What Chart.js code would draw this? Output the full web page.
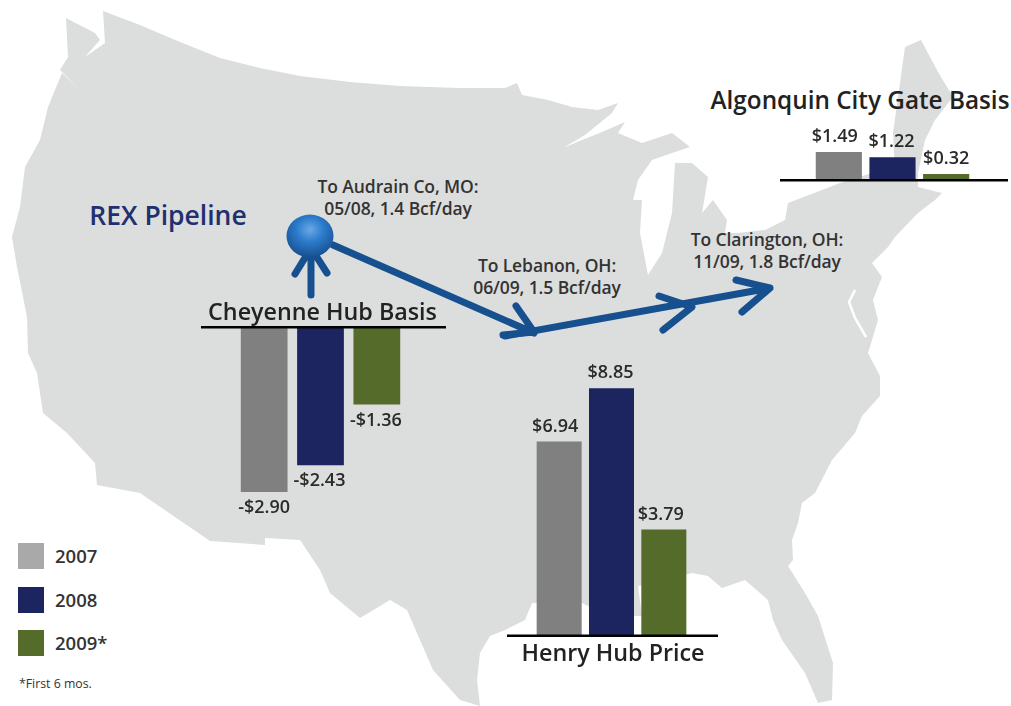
<!DOCTYPE html>
<html>
<head>
<meta charset="utf-8">
<title>REX Pipeline basis</title>
<script src="https://cdn.jsdelivr.net/npm/chart.js@4/dist/chart.umd.min.js"></script>
<style>
  html, body { margin: 0; background: #fff; }
  #stage { position: relative; width: 1011px; height: 706px; overflow: hidden;
           font-family: "Open Sans", sans-serif; font-weight: 600; color: #2a2a2a; }
  #map, canvas { position: absolute; left: 0; top: 0; }
  .t { position: absolute; white-space: nowrap; transform: translate(-50%, -50%); text-align: center; line-height: 1; }
  .head { font-size: 23.3px; color: #222; }
  .note { font-size: 17.5px; line-height: 22px; color: #333; letter-spacing: -0.1px; }
  .swatch { position: absolute; left: 18px; width: 26px; height: 26px; }
  .year { position: absolute; left: 55px; font-size: 18.5px; line-height: 1; transform: translateY(-50%); color: #333; }
</style>
</head>
<body>
<div id="stage">
  <svg id="map" width="1011" height="706">
    <defs>
      <radialGradient id="node" cx="50%" cy="35%" r="65%">
        <stop offset="0" stop-color="#6aa9e4"/>
        <stop offset="0.45" stop-color="#2b7bcb"/>
        <stop offset="1" stop-color="#17508f"/>
      </radialGradient>
    </defs>
    <polygon fill="#dcdddd" points="103,11 140,25 180,42 220,58 260,68 300,76 350,82 400,86 460,88 505,88 517,83 522,95 548,100 572,107 598,110 618,103 612,113 585,135 563,148 582,140 602,132 625,122 618,133 642,143 672,133 690,147 672,153 652,160 638,180 633,200 642,200 640,233 648,275 662,253 672,213 675,163 692,163 708,177 702,213 713,200 727,220 725,233 738,233 765,230 785,220 788,203 822,190 840,183 872,173 895,170 893,133 900,83 905,47 921,40 938,72 953,97 935,120 925,140 918,173 918,187 942,193 935,200 918,213 895,237 888,247 872,263 882,277 873,300 878,320 872,340 868,353 880,376 880,396 862,416 855,433 832,460 815,493 802,503 798,523 792,540 793,560 788,566 805,593 818,616 833,663 832,700 818,703 805,673 782,640 773,620 768,600 745,580 722,588 708,576 692,573 655,583 638,586 642,616 608,616 582,603 532,603 525,620 505,630 490,636 480,653 477,680 480,706 460,700 433,670 407,610 390,600 360,618 330,593 320,570 300,540 265,538 265,545 210,541 140,493 97,485 95,463 67,433 43,413 37,373 28,353 27,317 17,267 12,237 20,207 25,167 40,140 48,107 62,73 78,88 60,70 68,57 66,18 95,33 100,40 85,57 105,43"/>
    <path d="M855 290 L849 302 L855 318 L866 337" fill="none" stroke="#fff" stroke-width="2.5"/>
    <g fill="none" stroke="#17508f" stroke-width="7" stroke-linecap="round" stroke-linejoin="round">
      <path d="M311 295 V248 M295 274 L311 248 L327 273"/>
      <path d="M333 245 L534 333 M516 306 L534 332 L503 335"/>
      <path d="M505 336 L770 288 M659 296 L692 307 L663 330 M736 280 L770 288 L742 312"/>
    </g>
    <ellipse cx="310" cy="236" rx="23.5" ry="21.5" fill="url(#node)"/>
  </svg>

  <canvas id="cheyenne" style="left:201px;top:317px" width="245" height="210"></canvas>
  <canvas id="henry" style="left:507px;top:355px" width="211" height="290"></canvas>
  <canvas id="algonquin" style="left:780px;top:125px" width="228" height="65"></canvas>

  <div class="t" style="left:168px;top:215px;font-size:26.5px;color:#1f2f6f">REX Pipeline</div>
  <div class="t note" style="left:398px;top:197px">To Audrain Co, MO:<br>05/08, 1.4 Bcf/day</div>
  <div class="t note" style="left:547px;top:276px">To Lebanon, OH:<br>06/09, 1.5 Bcf/day</div>
  <div class="t note" style="left:767px;top:250px">To Clarington, OH:<br>11/09, 1.8 Bcf/day</div>
  <div class="t head" style="left:322.5px;top:312px">Cheyenne Hub Basis</div>
  <div class="t head" style="left:860px;top:100px;font-size:24.3px">Algonquin City Gate Basis</div>
  <div class="t head" style="left:613px;top:653px">Henry Hub Price</div>

  <div id="legend"></div>
  <div style="position:absolute;left:19px;top:678px;font-size:12.3px;line-height:1;font-weight:400;color:#333">*First 6 mos.</div>
</div>

<script>
const YEARS = ['2007', '2008', '2009*'];
const YEAR_COLORS = ['#808080', '#1d2560', '#556b2a'];
const SWATCH_COLORS = ['#a9a9a9', '#1d2560', '#556b2a'];

const CHEYENNE_BASIS = [-2.90, -2.43, -1.36];
const HENRY_PRICE = [6.94, 8.85, 3.79];
const ALGONQUIN_BASIS = [1.49, 1.22, 0.32];

// value above a positive bar, below a negative one, baseline across the whole canvas
const barExtras = {
  id: 'barExtras',
  afterDatasetsDraw(chart, args, opts) {
    const { ctx, width } = chart;
    const zero = chart.scales.y.getPixelForValue(0);
    ctx.save();
    ctx.fillStyle = '#000';
    ctx.fillRect(0, zero - 1, width, 2.5);
    ctx.font = '600 18px "Open Sans", sans-serif';
    ctx.fillStyle = '#2a2a2a';
    ctx.textAlign = 'center';
    ctx.textBaseline = 'middle';
    chart.getDatasetMeta(0).data.forEach((bar, i) => {
      const v = chart.data.datasets[0].data[i];
      const text = (v < 0 ? '-$' : '$') + Math.abs(v).toFixed(2);
      ctx.fillText(text, bar.x + opts.dx[i], bar.y + (v < 0 ? 16 : -15));
    });
    ctx.restore();
  },
};

function makeBarChart(canvasId, values, min, max, padding, barPct, dx) {
  return new Chart(document.getElementById(canvasId), {
    type: 'bar',
    data: {
      labels: YEARS,
      datasets: [{ data: values, backgroundColor: YEAR_COLORS, barPercentage: barPct, categoryPercentage: 1 }],
    },
    options: {
      responsive: false,
      animation: false,
      layout: { padding },
      plugins: { legend: { display: false }, tooltip: { enabled: false }, barExtras: { dx } },
      scales: {
        x: { display: false },
        y: { display: false, min, max },
      },
    },
    plugins: [barExtras],
  });
}

makeBarChart('cheyenne', CHEYENNE_BASIS, -3.25, 0,
  { left: 35, right: 41, top: 10, bottom: 15 }, 0.83, [0, -1, -1]);
makeBarChart('henry', HENRY_PRICE, 0, 9.5,
  { left: 26, right: 28, top: 15, bottom: 9.5 }, 0.86, [-4, -1, -3]);
makeBarChart('algonquin', ALGONQUIN_BASIS, 0, 2.4,
  { left: 32, right: 35, top: 10, bottom: 10 }, 0.86, [-4, -1, 0]);

// Legend
const legend = document.getElementById('legend');
YEARS.forEach((year, i) => {
  const top = 543 + i * 43.5;
  legend.insertAdjacentHTML('beforeend',
    `<div class="swatch" style="top:${top}px;background:${SWATCH_COLORS[i]}"></div>` +
    `<div class="year" style="top:${top + 13}px">${year}</div>`);
});
</script>
</body>
</html>
